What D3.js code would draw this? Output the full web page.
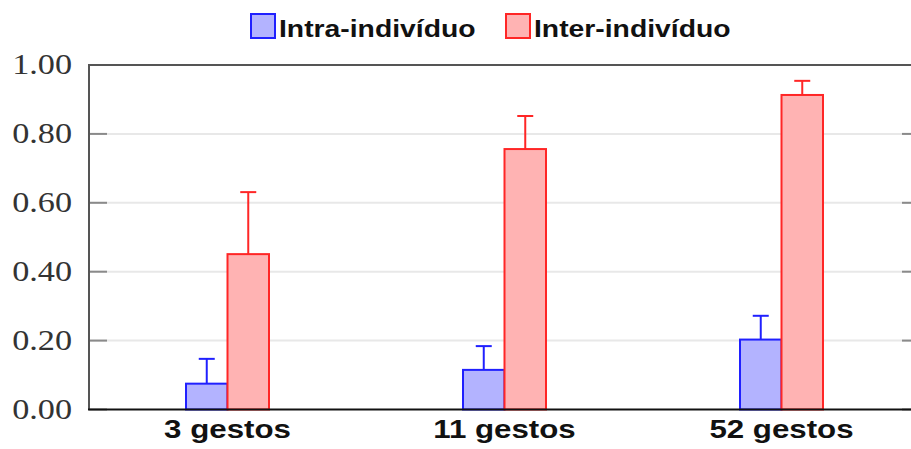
<!DOCTYPE html>
<html>
<head>
<meta charset="utf-8">
<script src="https://cdn.jsdelivr.net/npm/d3@7"></script>
<style>
  body { margin: 0; background: #fff; }
  svg { display: block; }
</style>
</head>
<body>
<div id="graph"></div>
<script>
var categories = ['3 gestos', '11 gestos', '52 gestos']
var series = ['Intra-indivíduo', 'Inter-indivíduo']
var intra = [0.075, 0.115, 0.203]
var intraErr = [0.072, 0.069, 0.069]
var inter = [0.451, 0.756, 0.913]
var interErr = [0.18, 0.096, 0.041]
var yTicks = [0, 0.2, 0.4, 0.6, 0.8, 1.0]

var width = 911, height = 449
var stretch = 1.18

var fills = ['#b3b3ff', '#ffb3b3']
var strokes = ['#2020ff', '#ff2626']

var svg = d3.select('#graph').append('svg')
  .attr('width', width).attr('height', height)

var x = d3.scaleBand().domain(categories).range([89, 920]).padding(0)
var xs = d3.scaleBand().domain(series).range([-41.5, 41.5]).padding(0)
var y = d3.scaleLinear().domain([0, 1]).range([409.5, 65])

var rows = categories.map((c, i) => [
  {c, s: series[0], v: intra[i], e: intraErr[i], k: 0},
  {c, s: series[1], v: inter[i], e: interErr[i], k: 1},
]).flat()

// grid
svg.append('g').selectAll('line')
  .data(yTicks.filter(d => d > 0 && d < 1))
  .join('line')
  .attr('x1', 89).attr('x2', 920)
  .attr('y1', d => y(d)).attr('y2', d => y(d))
  .attr('stroke', '#e8e8e8').attr('stroke-width', 2)

// tick marks left and right
var tickG = svg.append('g')
tickG.selectAll('.tl').data(yTicks).join('line')
  .attr('x1', 89).attr('x2', 107)
  .attr('y1', d => y(d)).attr('y2', d => y(d))
  .attr('stroke', '#8a8a8a').attr('stroke-width', 2)
tickG.selectAll('.tr').data(yTicks).join('line')
  .attr('x1', 902).attr('x2', 920)
  .attr('y1', d => y(d)).attr('y2', d => y(d))
  .attr('stroke', '#8a8a8a').attr('stroke-width', 2)

// bars
var barG = svg.append('g')
barG.selectAll('rect').data(rows).join('rect')
  .attr('x', d => x(d.c) + x.bandwidth() / 2 + xs(d.s))
  .attr('width', xs.bandwidth())
  .attr('y', d => y(d.v))
  .attr('height', d => y(0) - y(d.v))
  .attr('fill', d => fills[d.k])
  .attr('stroke', d => strokes[d.k])
  .attr('stroke-width', 2)

// error bars (upper only)
var errG = svg.append('g')
rows.forEach(d => {
  var cx = x(d.c) + x.bandwidth() / 2 + xs(d.s) + xs.bandwidth() / 2
  errG.append('line')
    .attr('x1', cx).attr('x2', cx)
    .attr('y1', y(d.v)).attr('y2', y(d.v + d.e))
    .attr('stroke', strokes[d.k]).attr('stroke-width', 2)
  errG.append('line')
    .attr('x1', cx - 8).attr('x2', cx + 8)
    .attr('y1', y(d.v + d.e)).attr('y2', y(d.v + d.e))
    .attr('stroke', strokes[d.k]).attr('stroke-width', 2)
})

// frame
svg.append('path')
  .attr('d', `M920,${y(1)} H89 V${y(0)}`)
  .attr('fill', 'none').attr('stroke', '#555').attr('stroke-width', 2)
svg.append('line')
  .attr('x1', 88).attr('x2', 920)
  .attr('y1', y(0)).attr('y2', y(0))
  .attr('stroke', '#111').attr('stroke-width', 2)

// y labels
svg.append('g').selectAll('text').data(yTicks).join('text')
  .attr('transform', d => `translate(72,${y(d) + 9}) scale(${stretch},1)`)
  .attr('text-anchor', 'end')
  .attr('font-family', '"Liberation Serif", "DejaVu Serif", serif')
  .attr('font-size', 29)
  .attr('fill', '#333')
  .text(d => d3.format('.2f')(d))

// x labels
svg.append('g').selectAll('text').data(categories).join('text')
  .attr('transform', d => `translate(${x(d) + x.bandwidth() / 2},438) scale(${stretch},1)`)
  .attr('text-anchor', 'middle')
  .attr('font-family', '"Liberation Sans", Arial, sans-serif')
  .attr('font-weight', 'bold')
  .attr('font-size', 26.5)
  .attr('fill', '#111')
  .text(d => d)

// legend
var legX = [250, 505]
var leg = svg.append('g').selectAll('g').data(series).join('g')
  .attr('transform', (d, i) => `translate(${legX[i]},13)`)
leg.append('rect')
  .attr('x', 1).attr('y', 1).attr('width', 24).attr('height', 24)
  .attr('fill', (d, i) => fills[i])
  .attr('stroke', (d, i) => strokes[i]).attr('stroke-width', 2)
leg.append('text')
  .attr('transform', `translate(29,24) scale(${stretch},1)`)
  .attr('font-family', '"Liberation Sans", Arial, sans-serif')
  .attr('font-weight', 'bold')
  .attr('font-size', 24)
  .attr('fill', '#111')
  .text(d => d)
</script>
</body>
</html>
